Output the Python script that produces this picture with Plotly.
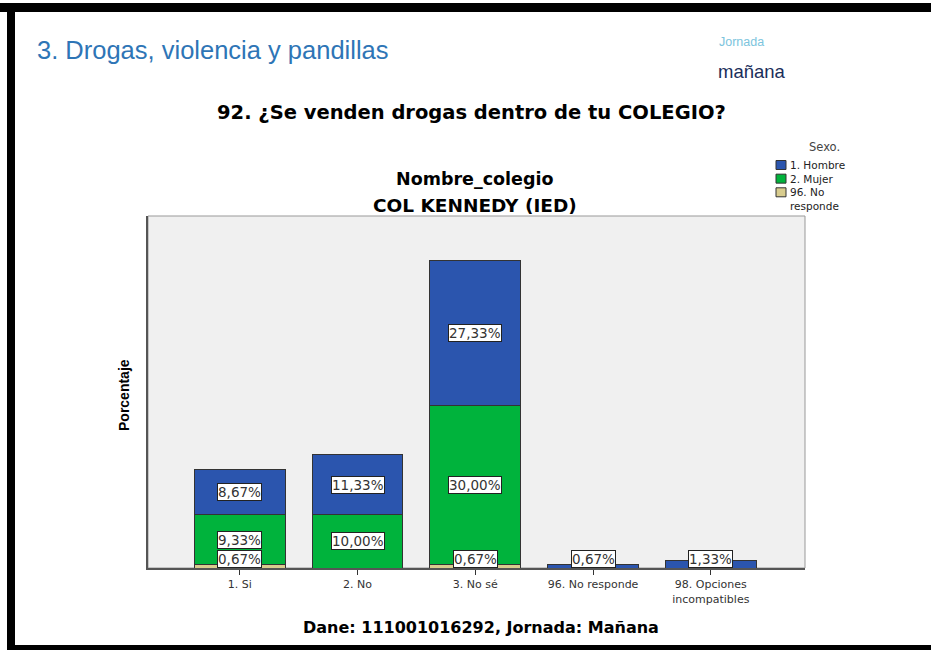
import plotly.graph_objects as go

categories = ["1. Si", "2. No", "3. No sé", "96. No responde", "98. Opciones<br>incompatibles"]
hombre = [8.67, 11.33, 27.33, 0.67, 1.33]
mujer = [9.33, 10.00, 30.00, 0.0, 0.0]
no_responde = [0.67, 0.0, 0.67, 0.0, 0.0]
legend_labels = ["1. Hombre", "2. Mujer", "96. No<br>responde"]
colors = {"1. Hombre": "#2b55ae", "2. Mujer": "#00b33c", "96. No responde": "#d8cc8e"}

W, H = 931, 650
L, R, T, B = 148, 805, 216, 568
SANS = "DejaVu Sans, Liberation Sans, Arial"

def px(x):
    return (x - L) / (R - L)

def py(y):
    return (B - y) / (B - T)

fig = go.Figure()
stack = [("96. No responde", no_responde), ("2. Mujer", mujer), ("1. Hombre", hombre)]
for name, vals in stack:
    fig.add_trace(go.Bar(
        x=categories, y=vals, name=name,
        marker=dict(color=colors[name], line=dict(color="#333333", width=1)),
        width=0.77, showlegend=False, hoverinfo="x+y+name"))

def fmt(v):
    return f"{v:.2f}%".replace(".", ",")

ymax = 66.4
min_label = 1.75
base = [0.0] * len(categories)
for name, vals in stack:
    for i, v in enumerate(vals):
        if v > 0:
            mid = base[i] + v / 2
            fig.add_annotation(x=categories[i], y=max(mid, min_label), xref="x", yref="y",
                               text=fmt(v), showarrow=False,
                               font=dict(family=SANS, size=13.5, color="#333333"),
                               bgcolor="white", bordercolor="#222222", borderwidth=1, borderpad=0)
        base[i] += v

def text(x, y, s, size, color="#000000", family=SANS, xanchor="center", bold=False, angle=0, yanchor="middle"):
    if bold:
        s = f"<b>{s}</b>"
    fig.add_annotation(x=px(x), y=py(y), xref="paper", yref="paper", text=s, showarrow=False,
                       xanchor=xanchor, yanchor=yanchor, textangle=angle, align="left",
                       font=dict(family=family, size=size, color=color))

# Slide frame
for (x0, y0, x1, y1) in [(0, 3, W, 12), (7, 3, 15, 650), (7, 645, W, 650)]:
    fig.add_shape(type="rect", xref="paper", yref="paper", x0=px(x0), x1=px(x1), y0=py(y1), y1=py(y0),
                  fillcolor="black", line=dict(width=0), layer="above")

text(35, 50, "3. Drogas, violencia y pandillas", 25.5, color="#2e75b6", family="Liberation Sans Narrow, Liberation Sans", xanchor="left")
text(717, 42, "Jornada", 12.5, color="#7cc4dd", family="Liberation Sans Narrow, Liberation Sans", xanchor="left")
text(716, 72, "mañana", 18.5, color="#1a2e5a", family="Liberation Sans Narrow, Liberation Sans", xanchor="left")

text(471, 113, "92. ¿Se venden drogas dentro de tu COLEGIO?", 19.5, bold=True)
text(475, 179, "Nombre_colegio", 17.5, bold=True)
text(475, 205, "COL KENNEDY (IED)", 18.5, bold=True)
text(124, 395, "Porcentaje", 14, bold=True, angle=-90, family="Liberation Sans Narrow, Liberation Sans")
text(481, 627, "Dane: 111001016292, Jornada: Mañana", 16, bold=True)

# Legend (single multi-line block)
text(824, 147, "Sexo.", 11.5, color="#444444")
text(788, 157, "<br>".join(legend_labels), 10.5, color="#222222", xanchor="left", yanchor="top")
line_h = 13.65
for k, name in enumerate(["1. Hombre", "2. Mujer", "96. No responde"]):
    yc = 165 + k * line_h
    fig.add_shape(type="rect", xref="paper", yref="paper", x0=px(776), x1=px(786), y0=py(yc + 4.5), y1=py(yc - 4.5),
                  fillcolor=colors[name], line=dict(color="#333333", width=1))

fig.update_layout(
    width=W, height=H,
    margin=dict(l=L, r=W - R, t=T, b=H - B, pad=0),
    paper_bgcolor="white", plot_bgcolor="#f0f0f0",
    barmode="stack", showlegend=False,
    xaxis=dict(range=[-0.78, 4.8], showline=True, linecolor="#555555", linewidth=2, mirror=False,
               ticks="outside", ticklen=5, tickcolor="#333333", tickwidth=1,
               tickfont=dict(family=SANS, size=11, color="#333333"),
               showgrid=False, zeroline=False, fixedrange=True),
    yaxis=dict(range=[0, ymax], showline=True, linecolor="#555555", linewidth=2,
               showticklabels=False, ticks="", showgrid=False, zeroline=False, fixedrange=True),
)
fig.add_shape(type="rect", xref="paper", yref="paper", x0=0, x1=1, y0=0, y1=1,
              line=dict(color="#999999", width=1), layer="below")

fig.write_html("out.html", config={"displayModeBar": False},
               post_script="document.body.style.margin='0';")
